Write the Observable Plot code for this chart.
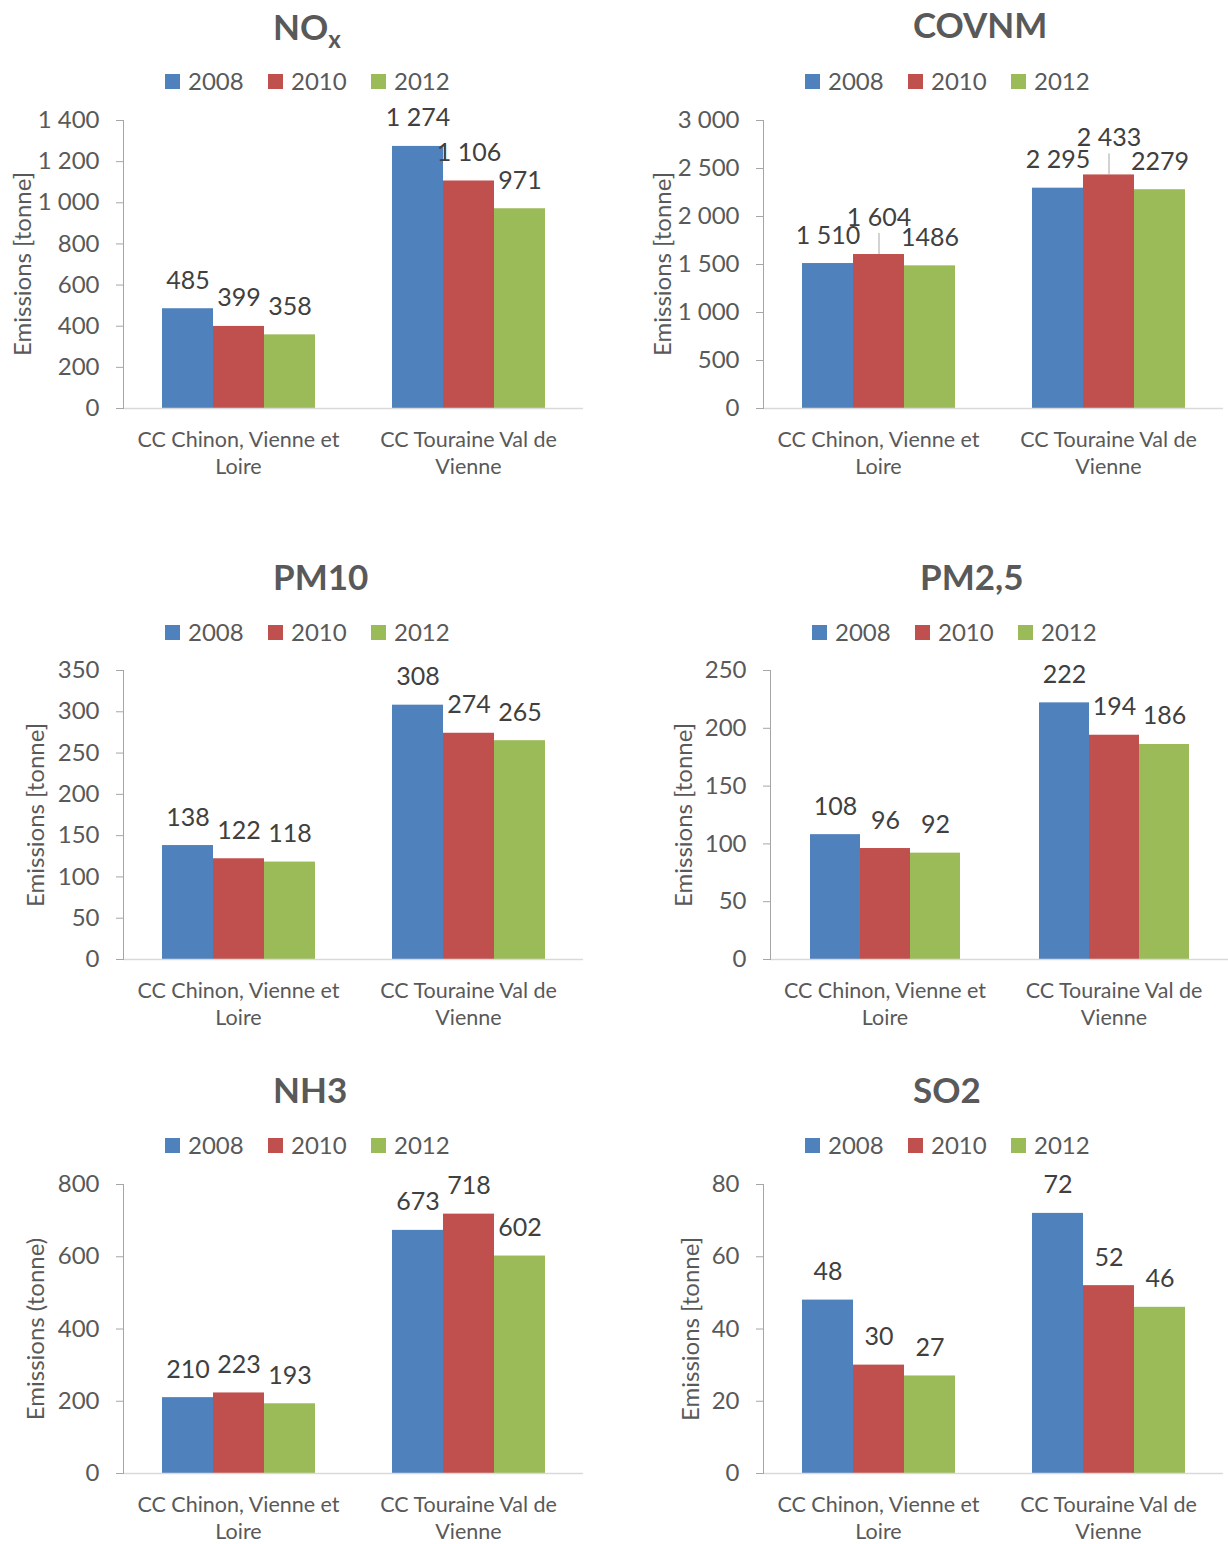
<!DOCTYPE html>
<html>
<head>
<meta charset="utf-8">
<script src="https://cdn.jsdelivr.net/npm/d3@7"></script>
<script src="https://cdn.jsdelivr.net/npm/@observablehq/plot@0.6"></script>
<style>
  html, body { margin: 0; padding: 0; background: #fff; }
  #root { position: relative; width: 1228px; height: 1544px; font-family: Lato, "Open Sans", sans-serif; color: #595959; overflow: hidden; }
  .title { position: absolute; font-weight: bold; font-size: 35px; line-height: 36px; white-space: nowrap; color: #595959; }
  .title sub { font-size: 24px; vertical-align: -8px; line-height: 0; }
  .lgsq { position: absolute; width: 15px; height: 15px; }
  .lgtx { position: absolute; font-size: 24px; line-height: 24px; white-space: nowrap; color: #595959; }
  .ylab { position: absolute; font-size: 24px; line-height: 24px; white-space: nowrap; transform: translate(-50%, -50%) rotate(-90deg); color: #595959; }
  .plot { position: absolute; }
</style>
</head>
<body>
<div id="root"></div>
<script>
// ---------- DATA ----------
const years = ["2008", "2010", "2012"];
const regions = ["CC Chinon, Vienne et Loire", "CC Touraine Val de Vienne"];
const seriesColors = ["#4F81BD", "#C0504D", "#9BBB59"];

// values: [region][year]
const noxValues   = [[485, 399, 358], [1274, 1106, 971]];
const covnmValues = [[1510, 1604, 1486], [2295, 2433, 2279]];
const pm10Values  = [[138, 122, 118], [308, 274, 265]];
const pm25Values  = [[108, 96, 92], [222, 194, 186]];
const nh3Values   = [[210, 223, 193], [673, 718, 602]];
const so2Values   = [[48, 30, 27], [72, 52, 46]];

// tick values
const noxTicks   = [0, 200, 400, 600, 800, 1000, 1200, 1400];
const covnmTicks = [0, 500, 1000, 1500, 2000, 2500, 3000];
const pm10Ticks  = [0, 50, 100, 150, 200, 250, 300, 350];
const pm25Ticks  = [0, 50, 100, 150, 200, 250];
const nh3Ticks   = [0, 200, 400, 600, 800];
const so2Ticks   = [0, 20, 40, 60, 80];

// titles and axis labels
const titles = ["NO|x", "COVNM", "PM10", "PM2,5", "NH3", "SO2"];
const yLabels = ["Emissions [tonne]", "Emissions [tonne]", "Emissions [tonne]", "Emissions [tonne]", "Emissions (tonne)", "Emissions [tonne]"];

// ---------- LAYOUT ----------
const layout = [
  {values: noxValues,   ticks: noxTicks,   axisX: 123, top: 120, bottom: 408, frameW: 460, titleLeft: 273, titleY: 27,   legendLeft: 165, legendY: 81,   ylabelX: 22},
  {values: covnmValues, ticks: covnmTicks, axisX: 763, top: 120, bottom: 408, frameW: 460, titleLeft: 913, titleY: 25,   legendLeft: 805, legendY: 81,   ylabelX: 662, raised: ["2010"], ungrouped: ["2012"]},
  {values: pm10Values,  ticks: pm10Ticks,  axisX: 123, top: 670, bottom: 959, frameW: 460, titleLeft: 273, titleY: 577,  legendLeft: 165, legendY: 632,  ylabelX: 35},
  {values: pm25Values,  ticks: pm25Ticks,  axisX: 770, top: 670, bottom: 959, frameW: 458, titleLeft: 920, titleY: 577,  legendLeft: 812, legendY: 632,  ylabelX: 683},
  {values: nh3Values,   ticks: nh3Ticks,   axisX: 123, top: 1184, bottom: 1473, frameW: 460, titleLeft: 273, titleY: 1090, legendLeft: 165, legendY: 1145, ylabelX: 35},
  {values: so2Values,   ticks: so2Ticks,   axisX: 763, top: 1184, bottom: 1473, frameW: 460, titleLeft: 913, titleY: 1090, legendLeft: 805, legendY: 1145, ylabelX: 690}
];

const fr = d3.formatLocale({decimal: ",", thousands: " ", grouping: [3], currency: ["", " €"]});
const fmtGroup = fr.format(",");
const fmtPlain = d3.format("d");

function wrap(s, maxChars = 20) {
  const words = s.split(" ");
  const lines = [];
  let cur = "";
  for (const w of words) {
    const cand = cur ? cur + " " + w : w;
    if (cand.length > maxChars && cur) { lines.push(cur); cur = w; } else cur = cand;
  }
  if (cur) lines.push(cur);
  return lines.join("\n");
}

const root = document.getElementById("root");
const mL = 110, mR = 6, mT = 40, mB = 70;

layout.forEach((p, k) => {
  const rows = regions.flatMap((r, i) => years.map((y, j) => ({region: r, year: y, value: p.values[i][j]})));
  const raised = p.raised || [];
  const ungrouped = p.ungrouped || [];
  const label = d => ungrouped.includes(d.year) ? fmtPlain(d.value) : fmtGroup(d.value);

  // title
  const t = document.createElement("div");
  t.className = "title";
  const [main, sub] = titles[k].split("|");
  t.textContent = main;
  if (sub) { const s = document.createElement("sub"); s.textContent = sub; t.appendChild(s); }
  t.style.left = p.titleLeft + "px";
  t.style.top = (p.titleY - 19) + "px";
  root.appendChild(t);

  // legend
  years.forEach((y, i) => {
    const sq = document.createElement("div");
    sq.className = "lgsq";
    sq.style.background = seriesColors[i];
    sq.style.left = (p.legendLeft + i * 103) + "px";
    sq.style.top = (p.legendY - 7) + "px";
    root.appendChild(sq);
    const tx = document.createElement("div");
    tx.className = "lgtx";
    tx.textContent = y;
    tx.style.left = (p.legendLeft + i * 103 + 23) + "px";
    tx.style.top = (p.legendY - 12) + "px";
    root.appendChild(tx);
  });

  // y label
  const yl = document.createElement("div");
  yl.className = "ylab";
  yl.textContent = yLabels[k];
  yl.style.left = p.ylabelX + "px";
  yl.style.top = ((p.top + p.bottom) / 2) + "px";
  root.appendChild(yl);

  const fh = p.bottom - p.top;
  const chart = Plot.plot({
    width: mL + p.frameW + mR,
    height: mT + fh + mB,
    marginLeft: mL, marginRight: mR, marginTop: mT, marginBottom: mB,
    style: {fontFamily: "Lato, 'Open Sans', sans-serif", background: "transparent", overflow: "visible", color: "#595959"},
    fx: {domain: regions, paddingInner: 0, paddingOuter: 0, axis: null, label: null},
    x: {domain: years, paddingInner: 0, paddingOuter: 0.75, axis: null},
    y: {domain: [0, d3.max(p.ticks)], axis: null},
    color: {domain: years, range: seriesColors},
    marks: [
      Plot.barY(rows, {fx: "region", x: "year", y: "value", fill: "year"}),
      Plot.ruleY([0], {stroke: "#D9D9D9", strokeWidth: 1.5}),
      Plot.axisY({ticks: p.ticks, tickSize: 7, tickPadding: 17, tickFormat: fmtGroup, fontSize: 24, fill: "#595959", stroke: "#A6A6A6", label: null}),
      Plot.frame({anchor: "left", facetAnchor: "left", stroke: "#A6A6A6"}),
      Plot.text(rows.filter(d => !raised.includes(d.year)), {fx: "region", x: "year", y: "value", text: label, dy: -28, fontSize: 25, fill: "#404040"}),
      Plot.text(rows.filter(d => raised.includes(d.year)), {fx: "region", x: "year", y: "value", text: label, dy: -37, fontSize: 25, fill: "#404040"}),
      Plot.ruleX(rows.filter(d => raised.includes(d.year)), {fx: "region", x: "year", y1: "value", y2: "value", insetTop: -21, stroke: "#A6A6A6"}),
      Plot.text(regions, {fx: d => d, text: d => wrap(d), frameAnchor: "bottom", lineAnchor: "top", dy: 19, fontSize: 21.5, lineHeight: 1.27, fill: "#595959"})
    ]
  });
  chart.classList.add("plot");
  chart.style.left = (p.axisX - mL) + "px";
  chart.style.top = (p.top - mT) + "px";
  root.appendChild(chart);
});
</script>
</body>
</html>
